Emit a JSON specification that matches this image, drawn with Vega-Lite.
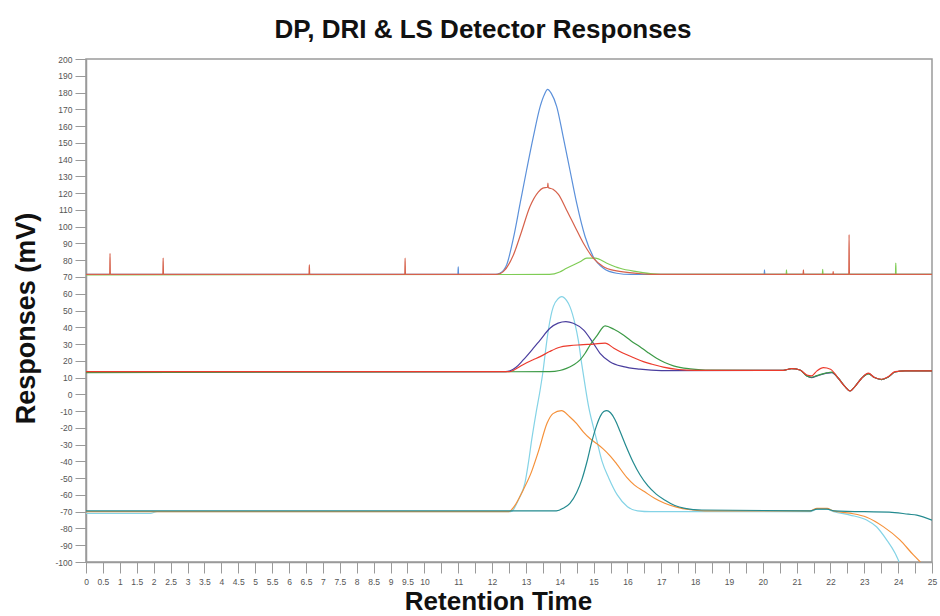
{
  "$schema": "https://vega.github.io/schema/vega-lite/v6.json",
  "width": 846,
  "height": 503,
  "autosize": {"type": "none"},
  "padding": {"left": 86, "top": 59, "right": 8, "bottom": 54},
  "background": "white",
  "config": {"view": {"stroke": "#9a9a9a", "strokeWidth": 1.5}, "font": "Liberation Sans"},
  "title": {"text": "DP, DRI & LS Detector Responses", "fontSize": 26, "fontWeight": "bold", "font": "Liberation Sans", "color": "#111111", "anchor": "middle", "dx": -26, "offset": 12},
  "data": {"values": [
    {"s":"C1","t":0,"v":-71},{"s":"C1","t":1.9,"v":-71},{"s":"C1","t":2.1,"v":-70},{"s":"C1","t":12.5,"v":-70},{"s":"C1","t":12.6,"v":-69.5},{"s":"C1","t":12.68,"v":-67},{"s":"C1","t":12.8,"v":-62},{"s":"C1","t":12.97,"v":-53},{"s":"C1","t":13.08,"v":-40},{"s":"C1","t":13.17,"v":-27.2},{"s":"C1","t":13.3,"v":-11},{"s":"C1","t":13.42,"v":2.6},{"s":"C1","t":13.5,"v":13},{"s":"C1","t":13.58,"v":26},{"s":"C1","t":13.66,"v":38},{"s":"C1","t":13.74,"v":47},{"s":"C1","t":13.81,"v":52.3},{"s":"C1","t":13.95,"v":57},{"s":"C1","t":14.06,"v":58.3},{"s":"C1","t":14.2,"v":56},{"s":"C1","t":14.3,"v":52.3},{"s":"C1","t":14.45,"v":42},{"s":"C1","t":14.55,"v":32},{"s":"C1","t":14.65,"v":18},{"s":"C1","t":14.75,"v":5},{"s":"C1","t":14.85,"v":-7},{"s":"C1","t":14.99,"v":-19.3},{"s":"C1","t":15.09,"v":-27.2},{"s":"C1","t":15.25,"v":-40},{"s":"C1","t":15.45,"v":-50},{"s":"C1","t":15.7,"v":-60},{"s":"C1","t":16.0,"v":-67},{"s":"C1","t":16.3,"v":-69.5},{"s":"C1","t":16.7,"v":-70},{"s":"C1","t":21.4,"v":-70},{"s":"C1","t":21.6,"v":-68.5},{"s":"C1","t":21.9,"v":-68.5},{"s":"C1","t":22.1,"v":-70},{"s":"C1","t":22.58,"v":-72},{"s":"C1","t":23.07,"v":-75},{"s":"C1","t":23.36,"v":-79},{"s":"C1","t":23.66,"v":-86.8},{"s":"C1","t":23.91,"v":-94.8},{"s":"C1","t":24.03,"v":-100},
    {"s":"C2","t":0,"v":-70},{"s":"C2","t":12.5,"v":-70},{"s":"C2","t":12.65,"v":-67},{"s":"C2","t":12.92,"v":-57},{"s":"C2","t":13.15,"v":-47},{"s":"C2","t":13.37,"v":-34},{"s":"C2","t":13.63,"v":-17},{"s":"C2","t":13.8,"v":-11.5},{"s":"C2","t":14.05,"v":-9.7},{"s":"C2","t":14.3,"v":-13.5},{"s":"C2","t":14.5,"v":-17.5},{"s":"C2","t":14.7,"v":-22.5},{"s":"C2","t":14.9,"v":-26.5},{"s":"C2","t":15.1,"v":-29.5},{"s":"C2","t":15.29,"v":-32.7},{"s":"C2","t":15.5,"v":-37},{"s":"C2","t":15.68,"v":-41.5},{"s":"C2","t":15.98,"v":-49.5},{"s":"C2","t":16.2,"v":-54},{"s":"C2","t":16.5,"v":-58},{"s":"C2","t":16.8,"v":-62},{"s":"C2","t":17.1,"v":-65},{"s":"C2","t":17.45,"v":-67.3},{"s":"C2","t":17.8,"v":-68.7},{"s":"C2","t":18.3,"v":-69.5},{"s":"C2","t":21.4,"v":-69.5},{"s":"C2","t":21.6,"v":-68},{"s":"C2","t":21.9,"v":-68},{"s":"C2","t":22.08,"v":-69.5},{"s":"C2","t":22.58,"v":-70.9},{"s":"C2","t":23.07,"v":-73.3},{"s":"C2","t":23.56,"v":-78.9},{"s":"C2","t":24.05,"v":-86.8},{"s":"C2","t":24.45,"v":-95.8},{"s":"C2","t":24.67,"v":-100.3},
    {"s":"C3","t":0,"v":-69.5},{"s":"C3","t":13.9,"v":-69.5},{"s":"C3","t":14.1,"v":-68},{"s":"C3","t":14.3,"v":-65},{"s":"C3","t":14.5,"v":-58.5},{"s":"C3","t":14.65,"v":-51},{"s":"C3","t":14.8,"v":-40.5},{"s":"C3","t":14.95,"v":-28},{"s":"C3","t":15.09,"v":-18.5},{"s":"C3","t":15.2,"v":-13},{"s":"C3","t":15.3,"v":-10.3},{"s":"C3","t":15.39,"v":-9.7},{"s":"C3","t":15.5,"v":-11},{"s":"C3","t":15.63,"v":-15},{"s":"C3","t":15.78,"v":-22},{"s":"C3","t":15.95,"v":-30.5},{"s":"C3","t":16.17,"v":-40.5},{"s":"C3","t":16.37,"v":-48},{"s":"C3","t":16.6,"v":-54.5},{"s":"C3","t":16.85,"v":-59.5},{"s":"C3","t":17.1,"v":-63},{"s":"C3","t":17.4,"v":-66.3},{"s":"C3","t":17.7,"v":-68},{"s":"C3","t":18.2,"v":-69},{"s":"C3","t":21.4,"v":-69.5},{"s":"C3","t":21.6,"v":-68.5},{"s":"C3","t":21.9,"v":-68.5},{"s":"C3","t":22.1,"v":-69.5},{"s":"C3","t":23.9,"v":-70.5},{"s":"C3","t":24.3,"v":-71.5},{"s":"C3","t":24.55,"v":-72},{"s":"C3","t":25,"v":-75},
    {"s":"B1","t":0,"v":13.2},{"s":"B1","t":12.4,"v":13.5},{"s":"B1","t":12.53,"v":14},{"s":"B1","t":12.7,"v":16},{"s":"B1","t":12.92,"v":20.5},{"s":"B1","t":13.22,"v":27.5},{"s":"B1","t":13.42,"v":32.4},{"s":"B1","t":13.71,"v":39.4},{"s":"B1","t":13.95,"v":42.5},{"s":"B1","t":14.18,"v":43.4},{"s":"B1","t":14.4,"v":42.4},{"s":"B1","t":14.7,"v":38.4},{"s":"B1","t":14.99,"v":30.5},{"s":"B1","t":15.19,"v":24.5},{"s":"B1","t":15.48,"v":19.5},{"s":"B1","t":15.88,"v":16.5},{"s":"B1","t":16.37,"v":15},{"s":"B1","t":17,"v":14.2},{"s":"B1","t":20.6,"v":14.3},{"s":"B1","t":20.85,"v":15.3},{"s":"B1","t":21.1,"v":14.5},{"s":"B1","t":21.3,"v":11},{"s":"B1","t":21.44,"v":10},{"s":"B1","t":21.6,"v":11},{"s":"B1","t":21.89,"v":12.6},{"s":"B1","t":22.04,"v":13},{"s":"B1","t":22.23,"v":9.6},{"s":"B1","t":22.43,"v":4.6},{"s":"B1","t":22.58,"v":2},{"s":"B1","t":22.72,"v":4.6},{"s":"B1","t":22.92,"v":9.6},{"s":"B1","t":23.12,"v":12.3},{"s":"B1","t":23.3,"v":10},{"s":"B1","t":23.51,"v":8.8},{"s":"B1","t":23.7,"v":10.2},{"s":"B1","t":23.91,"v":13.3},{"s":"B1","t":24.2,"v":14},{"s":"B1","t":25,"v":14},
    {"s":"B2","t":0,"v":13},{"s":"B2","t":13.7,"v":13.5},{"s":"B2","t":14.0,"v":14.2},{"s":"B2","t":14.2,"v":15.5},{"s":"B2","t":14.4,"v":17.5},{"s":"B2","t":14.6,"v":20.5},{"s":"B2","t":14.75,"v":24.5},{"s":"B2","t":14.9,"v":29.5},{"s":"B2","t":15.1,"v":35},{"s":"B2","t":15.34,"v":40.8},{"s":"B2","t":15.6,"v":38.8},{"s":"B2","t":15.88,"v":35.4},{"s":"B2","t":16.1,"v":32},{"s":"B2","t":16.37,"v":28.4},{"s":"B2","t":16.6,"v":25},{"s":"B2","t":16.86,"v":21.5},{"s":"B2","t":17.1,"v":19},{"s":"B2","t":17.36,"v":17},{"s":"B2","t":17.85,"v":15.2},{"s":"B2","t":18.3,"v":14.5},{"s":"B2","t":20.6,"v":14.3},{"s":"B2","t":20.85,"v":15.3},{"s":"B2","t":21.1,"v":14.5},{"s":"B2","t":21.3,"v":11},{"s":"B2","t":21.44,"v":10.2},{"s":"B2","t":21.6,"v":11.2},{"s":"B2","t":21.89,"v":12.8},{"s":"B2","t":22.04,"v":13.2},{"s":"B2","t":22.23,"v":9.6},{"s":"B2","t":22.43,"v":4.6},{"s":"B2","t":22.58,"v":2},{"s":"B2","t":22.72,"v":4.6},{"s":"B2","t":22.92,"v":9.6},{"s":"B2","t":23.12,"v":12.2},{"s":"B2","t":23.3,"v":10},{"s":"B2","t":23.51,"v":8.8},{"s":"B2","t":23.7,"v":10.2},{"s":"B2","t":23.91,"v":13.3},{"s":"B2","t":24.2,"v":14},{"s":"B2","t":25,"v":14},
    {"s":"B3","t":0,"v":13.5},{"s":"B3","t":12.5,"v":13.5},{"s":"B3","t":12.65,"v":14.5},{"s":"B3","t":12.9,"v":17.5},{"s":"B3","t":13.2,"v":20.5},{"s":"B3","t":13.42,"v":22.5},{"s":"B3","t":13.7,"v":25.5},{"s":"B3","t":14.0,"v":28.1},{"s":"B3","t":14.3,"v":29},{"s":"B3","t":14.6,"v":29.5},{"s":"B3","t":15.0,"v":30},{"s":"B3","t":15.34,"v":30.5},{"s":"B3","t":15.6,"v":27.5},{"s":"B3","t":15.88,"v":24.5},{"s":"B3","t":16.17,"v":22},{"s":"B3","t":16.47,"v":19.5},{"s":"B3","t":16.76,"v":17.8},{"s":"B3","t":17.06,"v":16.2},{"s":"B3","t":17.5,"v":14.8},{"s":"B3","t":18,"v":14.3},{"s":"B3","t":20.6,"v":14.3},{"s":"B3","t":20.85,"v":15.3},{"s":"B3","t":21.1,"v":14.5},{"s":"B3","t":21.3,"v":11.5},{"s":"B3","t":21.44,"v":11},{"s":"B3","t":21.6,"v":14},{"s":"B3","t":21.79,"v":15.9},{"s":"B3","t":22.0,"v":15},{"s":"B3","t":22.23,"v":9.6},{"s":"B3","t":22.43,"v":4.6},{"s":"B3","t":22.58,"v":2},{"s":"B3","t":22.72,"v":4.6},{"s":"B3","t":22.92,"v":9.6},{"s":"B3","t":23.12,"v":12.6},{"s":"B3","t":23.3,"v":10},{"s":"B3","t":23.51,"v":9},{"s":"B3","t":23.7,"v":10.5},{"s":"B3","t":23.91,"v":13.5},{"s":"B3","t":24.2,"v":14},{"s":"B3","t":25,"v":14},
    {"s":"A1","t":0,"v":71.5},{"s":"A1","t":10.99,"v":71.5},{"s":"A1","t":11.0,"v":76},{"s":"A1","t":11.01,"v":71.5},{"s":"A1","t":12.1,"v":71.5},{"s":"A1","t":12.23,"v":72.2},{"s":"A1","t":12.43,"v":77.2},{"s":"A1","t":12.63,"v":93.1},{"s":"A1","t":12.83,"v":114},{"s":"A1","t":13.02,"v":133.8},{"s":"A1","t":13.22,"v":153.7},{"s":"A1","t":13.42,"v":171.6},{"s":"A1","t":13.55,"v":179},{"s":"A1","t":13.64,"v":181.9},{"s":"A1","t":13.75,"v":179.5},{"s":"A1","t":13.91,"v":171.6},{"s":"A1","t":14.1,"v":153.7},{"s":"A1","t":14.3,"v":133.8},{"s":"A1","t":14.5,"v":114},{"s":"A1","t":14.75,"v":94},{"s":"A1","t":14.99,"v":82.1},{"s":"A1","t":15.29,"v":75.2},{"s":"A1","t":15.68,"v":72.2},{"s":"A1","t":16.1,"v":71.5},{"s":"A1","t":20.04,"v":71.5},{"s":"A1","t":20.05,"v":74.2},{"s":"A1","t":20.06,"v":71.5},{"s":"A1","t":25,"v":71.5},
    {"s":"A2","t":0,"v":71.3},{"s":"A2","t":13.7,"v":71.5},{"s":"A2","t":14.0,"v":73},{"s":"A2","t":14.2,"v":75.2},{"s":"A2","t":14.6,"v":79.1},{"s":"A2","t":14.8,"v":81.2},{"s":"A2","t":15.05,"v":81.2},{"s":"A2","t":15.39,"v":78.2},{"s":"A2","t":15.78,"v":75.2},{"s":"A2","t":16.27,"v":73.2},{"s":"A2","t":16.76,"v":71.8},{"s":"A2","t":17.2,"v":71.5},{"s":"A2","t":20.69,"v":71.5},{"s":"A2","t":20.7,"v":74.2},{"s":"A2","t":20.71,"v":71.5},{"s":"A2","t":21.76,"v":71.5},{"s":"A2","t":21.77,"v":74.5},{"s":"A2","t":21.78,"v":71.5},{"s":"A2","t":23.92,"v":71.5},{"s":"A2","t":23.93,"v":78.2},{"s":"A2","t":23.94,"v":71.5},{"s":"A2","t":25,"v":71.5},
    {"s":"A3","t":0,"v":71.5},{"s":"A3","t":0.7,"v":71.5},{"s":"A3","t":0.71,"v":84},{"s":"A3","t":0.72,"v":71.5},{"s":"A3","t":2.27,"v":71.5},{"s":"A3","t":2.28,"v":81.2},{"s":"A3","t":2.29,"v":71.5},{"s":"A3","t":6.59,"v":71.5},{"s":"A3","t":6.6,"v":77.2},{"s":"A3","t":6.61,"v":71.5},{"s":"A3","t":9.42,"v":71.5},{"s":"A3","t":9.43,"v":81.3},{"s":"A3","t":9.44,"v":71.5},{"s":"A3","t":12.15,"v":71.5},{"s":"A3","t":12.33,"v":73.2},{"s":"A3","t":12.63,"v":83.1},{"s":"A3","t":12.87,"v":97},{"s":"A3","t":13.12,"v":112},{"s":"A3","t":13.37,"v":120.8},{"s":"A3","t":13.5,"v":123},{"s":"A3","t":13.64,"v":123.5},{"s":"A3","t":13.65,"v":126},{"s":"A3","t":13.66,"v":123.4},{"s":"A3","t":13.8,"v":122.3},{"s":"A3","t":13.96,"v":119.2},{"s":"A3","t":14.2,"v":110},{"s":"A3","t":14.45,"v":100},{"s":"A3","t":14.7,"v":90.1},{"s":"A3","t":14.99,"v":81.2},{"s":"A3","t":15.29,"v":76.1},{"s":"A3","t":15.68,"v":73.6},{"s":"A3","t":16.27,"v":72.2},{"s":"A3","t":16.8,"v":71.5},{"s":"A3","t":21.19,"v":71.5},{"s":"A3","t":21.2,"v":74.2},{"s":"A3","t":21.21,"v":71.5},{"s":"A3","t":22.07,"v":71.5},{"s":"A3","t":22.08,"v":73.2},{"s":"A3","t":22.09,"v":71.5},{"s":"A3","t":22.54,"v":71.5},{"s":"A3","t":22.55,"v":95.2},{"s":"A3","t":22.56,"v":71.5},{"s":"A3","t":25,"v":71.5}
  ]},
  "mark": {"type": "line", "strokeWidth": 1.2, "clip": true, "interpolate": "monotone"},
  "encoding": {
    "x": {
      "field": "t", "type": "quantitative",
      "scale": {"domain": [0, 25], "nice": false, "zero": false},
      "axis": {
        "values": [0,0.5,1,1.5,2,2.5,3,3.5,4,4.5,5,5.5,6,6.5,7,7.5,8,8.5,9,9.5,10,10.5,11,11.5,12,12.5,13,13.5,14,14.5,15,15.5,16,16.5,17,17.5,18,18.5,19,19.5,20,20.5,21,21.5,22,22.5,23,23.5,24,24.5,25],
        "labelExpr": "datum.value > 10 && datum.value % 1 != 0 ? '' : toString(datum.value)",
        "labelOverlap": false, "labelFlush": false,
        "labelFontSize": 8.5, "labelColor": "#555555", "labelPadding": 4,
        "tickSize": 11, "tickColor": "#9a9a9a", "tickWidth": 1,
        "domainColor": "#9a9a9a", "domainWidth": 1.5, "grid": false,
        "title": "Retention Time", "titleFontSize": 26, "titleFontWeight": "bold", "titleColor": "#111111",
        "titleX": 412, "titleY": 39, "titleBaseline": "middle", "titleAlign": "center"
      }
    },
    "y": {
      "field": "v", "type": "quantitative",
      "scale": {"domain": [-100, 200], "nice": false, "zero": false},
      "axis": {
        "values": [-100,-90,-80,-70,-60,-50,-40,-30,-20,-10,0,10,20,30,40,50,60,70,80,90,100,110,120,130,140,150,160,170,180,190,200],
        "labelExpr": "toString(datum.value)",
        "labelOverlap": false, "labelFontSize": 8.5, "labelColor": "#555555", "labelPadding": 3,
        "tickSize": 11, "tickColor": "#9a9a9a", "tickWidth": 1,
        "domainColor": "#9a9a9a", "domainWidth": 1.5, "grid": false,
        "title": "Responses (mV)", "titleFontSize": 27, "titleFontWeight": "bold", "titleColor": "#111111",
        "titleX": -60, "titleY": 259, "titleBaseline": "middle", "titleAlign": "center", "titleAngle": -90
      }
    },
    "color": {
      "field": "s", "type": "nominal", "legend": null,
      "scale": {
        "domain": ["C1","C2","C3","B1","B2","B3","A1","A2","A3"],
        "range": ["#84d3e6","#f5913a","#238a8f","#4a3e9e","#3c9a46","#ec3a2c","#5b90da","#7fcc55","#d6614b"]
      }
    }
  }
}
